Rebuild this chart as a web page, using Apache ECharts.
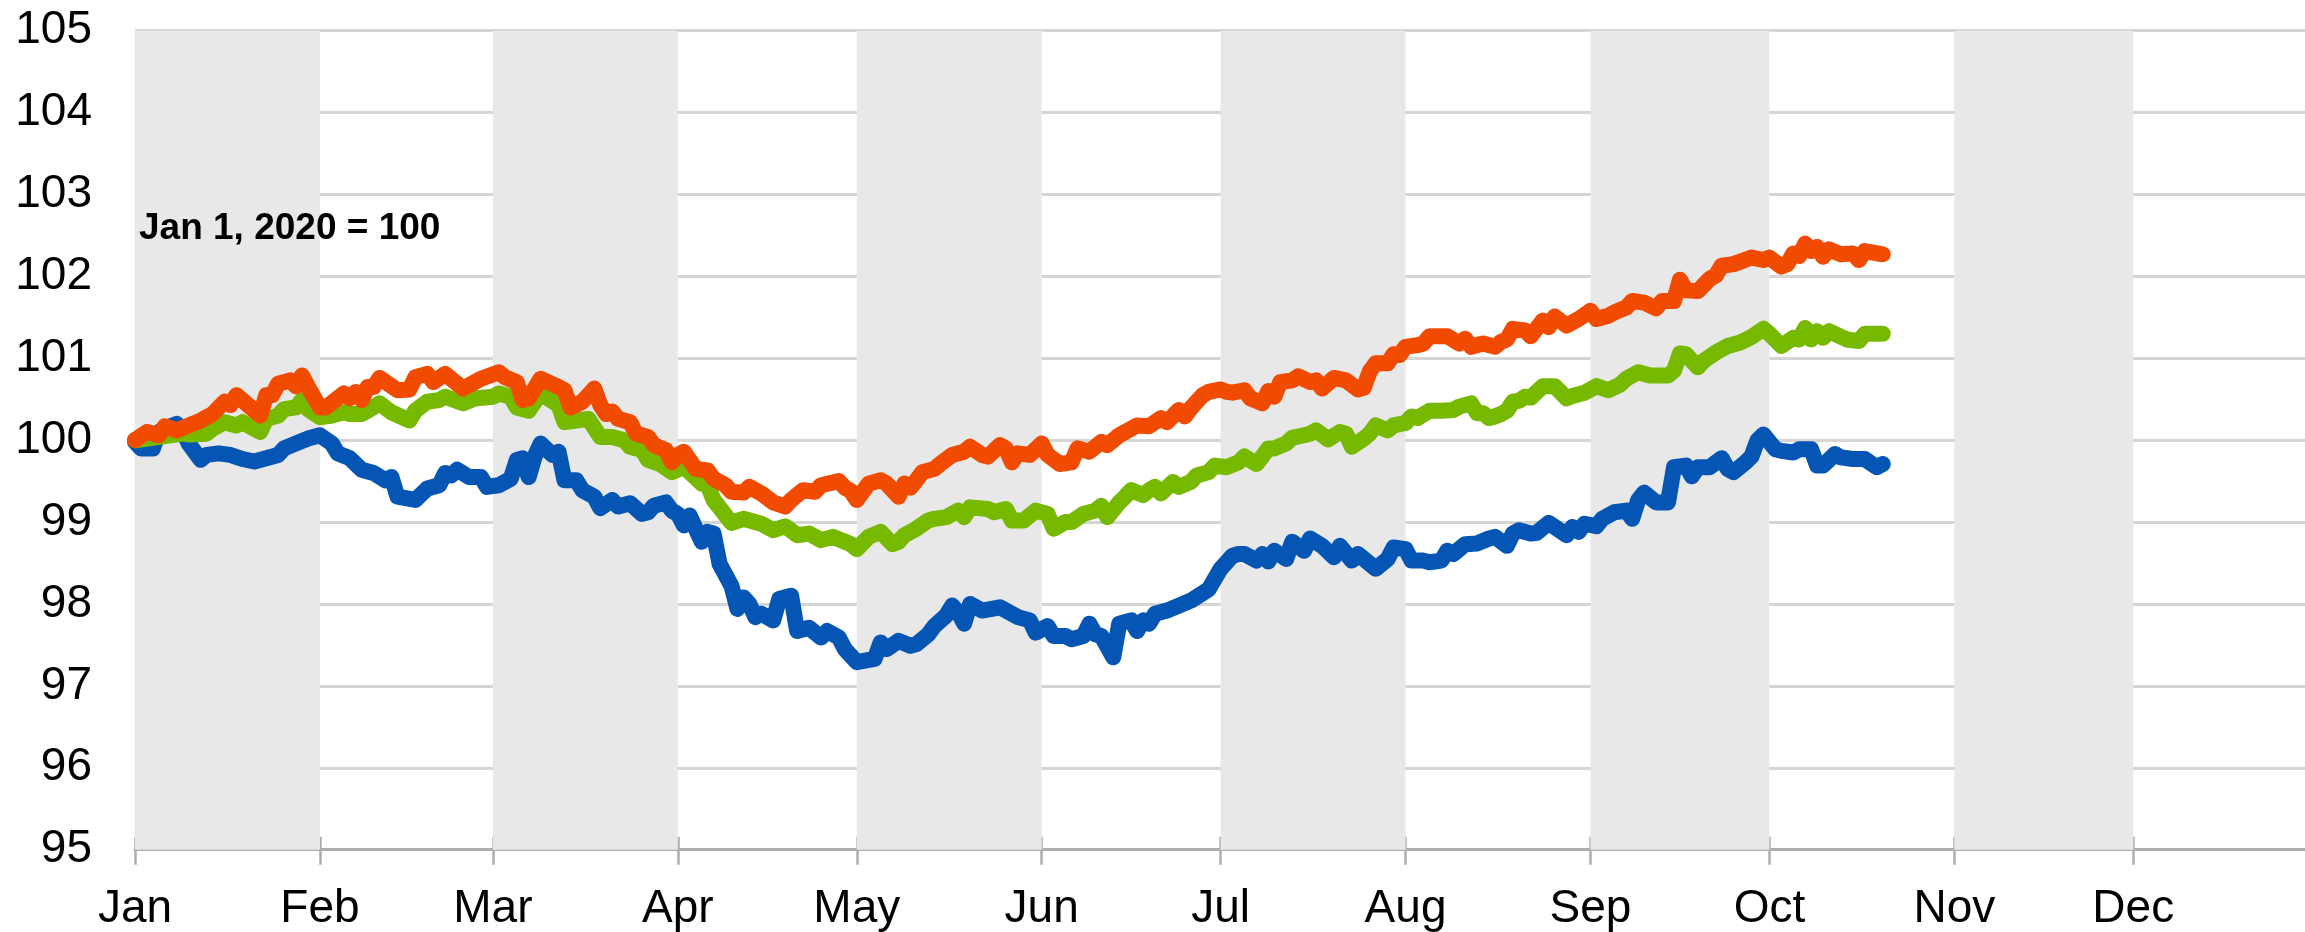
<!DOCTYPE html>
<html>
<head>
<meta charset="utf-8">
<script src="https://cdn.jsdelivr.net/npm/echarts@6/dist/echarts.min.js"></script>
<style>
html,body{margin:0;padding:0;background:#fff;}
#chart{width:2305px;height:932px;}
</style>
</head>
<body>
<div id="chart"></div>
<script>
// ---- Data (day offset from Jan 1, 2020 ; index value, Jan 1 2020 = 100) ----
const monthLabels = ['Jan','Feb','Mar','Apr','May','Jun','Jul','Aug','Sep','Oct','Nov','Dec'];
const yTicks = [95,96,97,98,99,100,101,102,103,104,105];
const shadedMonths = [0,2,4,6,8,10]; // Jan, Mar, May, Jul, Sep, Nov

const orangeDays = [0,2,4,5,7,11,13,15,16,17,21,22,23,24,26,27,28,29,31,32,35,36,37,38,39,40,41,44,46,47,49,50,52,55,57,58,61,62,64,65,66,68,71,72,73,75,77,78,79,80,81,83,84,86,87,89,90,91,92,94,96,97,99,100,102,103,105,107,109,110,112,114,115,118,119,120,121,123,125,126,128,129,130,131,132,134,135,137,139,140,142,143,145,146,147,148,150,152,153,155,157,158,160,162,163,165,167,168,170,172,173,175,176,177,179,180,182,183,184,186,187,189,190,191,192,194,195,197,198,199,201,203,205,206,207,208,210,211,212,213,215,216,217,219,220,222,223,224,226,228,229,230,231,233,234,236,237,238,240,242,244,245,247,248,250,251,253,255,256,258,259,260,262,264,265,266,268,271,273,274,276,277,278,279,280,281,282,283,284,286,288,289,290,293];
const orangeValues = [100.00,100.10,100.06,100.17,100.12,100.24,100.32,100.47,100.43,100.55,100.30,100.55,100.55,100.69,100.73,100.66,100.79,100.65,100.40,100.40,100.57,100.51,100.59,100.49,100.65,100.65,100.76,100.61,100.62,100.77,100.81,100.71,100.81,100.63,100.71,100.75,100.83,100.77,100.71,100.49,100.51,100.75,100.65,100.61,100.40,100.47,100.63,100.43,100.32,100.35,100.26,100.22,100.08,100.04,99.94,99.88,99.73,99.82,99.86,99.65,99.63,99.53,99.45,99.37,99.36,99.43,99.35,99.24,99.19,99.27,99.39,99.37,99.45,99.50,99.42,99.38,99.27,99.47,99.51,99.47,99.31,99.47,99.42,99.51,99.61,99.65,99.71,99.82,99.86,99.92,99.82,99.80,99.94,99.90,99.73,99.84,99.82,99.96,99.82,99.71,99.73,99.90,99.86,99.98,99.94,100.06,100.14,100.18,100.17,100.27,100.22,100.37,100.29,100.39,100.55,100.59,100.62,100.59,100.58,100.61,100.51,100.45,100.60,100.53,100.71,100.73,100.78,100.71,100.73,100.63,100.76,100.73,100.62,100.64,100.84,100.94,100.94,101.05,101.04,101.14,101.16,101.18,101.27,101.27,101.27,101.18,101.24,101.14,101.18,101.14,101.20,101.23,101.36,101.34,101.27,101.46,101.38,101.51,101.40,101.48,101.58,101.48,101.52,101.56,101.62,101.70,101.68,101.61,101.70,101.70,101.96,101.83,101.82,101.97,102.01,102.13,102.15,102.23,102.20,102.23,102.12,102.15,102.28,102.25,102.40,102.31,102.36,102.24,102.33,102.27,102.28,102.20,102.31,102.27];

const greenDays = [0,8,9,12,13,15,17,18,21,22,24,25,27,28,29,31,33,35,36,38,39,41,43,46,47,49,51,52,55,57,60,61,63,64,66,68,71,72,74,76,78,80,82,83,85,86,88,90,92,93,95,96,97,100,102,105,107,109,111,113,115,117,119,120,121,123,125,127,128,129,131,133,134,136,138,139,140,143,144,146,147,149,151,153,154,156,157,159,161,162,163,165,166,167,169,170,171,172,174,175,177,178,180,181,183,185,186,188,189,190,191,193,194,196,197,198,200,202,203,204,206,207,208,210,211,213,214,215,217,219,221,222,224,225,226,227,228,229,230,231,232,233,234,236,238,240,241,243,245,247,249,250,252,254,257,258,259,260,262,263,265,267,269,271,273,274,276,278,279,280,281,282,283,284,287,289,290,293];
const greenValues = [100.00,100.08,100.07,100.08,100.14,100.22,100.18,100.22,100.10,100.26,100.30,100.38,100.40,100.49,100.38,100.28,100.30,100.34,100.32,100.32,100.36,100.45,100.34,100.24,100.36,100.47,100.49,100.53,100.45,100.51,100.53,100.57,100.53,100.40,100.36,100.57,100.43,100.22,100.24,100.26,100.04,100.04,100.00,99.92,99.88,99.76,99.71,99.61,99.67,99.61,99.47,99.45,99.27,98.99,99.04,98.98,98.90,98.95,98.84,98.86,98.78,98.82,98.76,98.73,98.67,98.82,98.88,98.73,98.76,98.84,98.92,99.02,99.04,99.06,99.14,99.06,99.18,99.16,99.12,99.16,99.02,99.02,99.14,99.10,98.92,99.00,99.00,99.10,99.14,99.20,99.06,99.24,99.31,99.39,99.33,99.39,99.43,99.35,99.49,99.43,99.49,99.57,99.61,99.69,99.67,99.73,99.80,99.71,99.80,99.90,99.90,99.96,100.03,100.06,100.08,100.12,100.01,100.10,100.08,99.92,100.02,100.08,100.18,100.12,100.18,100.21,100.29,100.27,100.36,100.36,100.37,100.41,100.45,100.33,100.33,100.27,100.29,100.32,100.36,100.47,100.48,100.53,100.52,100.66,100.66,100.51,100.54,100.58,100.66,100.61,100.68,100.75,100.83,100.79,100.79,100.85,101.06,101.05,100.89,100.97,101.07,101.15,101.19,101.26,101.36,101.30,101.15,101.25,101.23,101.37,101.23,101.33,101.25,101.33,101.23,101.21,101.30,101.30];

const blueDays = [0,1,3,4,5,7,8,9,11,12,14,16,18,20,22,24,25,27,29,31,33,34,36,38,40,42,43,44,47,49,51,52,53,54,56,58,59,61,63,64,65,66,67,68,70,71,72,74,75,77,78,80,81,83,85,86,87,89,90,91,92,93,95,96,97,98,100,101,102,103,104,105,107,108,110,111,113,115,116,118,119,121,124,125,126,128,130,131,133,134,136,137,138,139,140,142,145,148,150,151,153,154,156,157,159,160,161,162,164,165,167,168,169,170,171,173,175,177,180,182,184,185,186,188,189,190,191,193,194,196,197,199,201,202,204,205,208,210,211,213,214,216,217,219,220,221,223,225,227,228,230,231,232,234,235,237,240,241,242,243,245,246,248,250,251,252,253,255,257,258,260,261,262,264,266,267,268,270,271,272,273,275,276,278,279,281,282,283,285,286,288,290,292,293];
const blueValues = [99.98,99.90,99.90,100.10,100.14,100.20,100.12,99.96,99.76,99.82,99.84,99.82,99.77,99.74,99.78,99.82,99.90,99.96,100.02,100.06,99.96,99.84,99.78,99.64,99.60,99.51,99.55,99.31,99.27,99.41,99.45,99.60,99.57,99.64,99.55,99.55,99.43,99.45,99.53,99.76,99.78,99.55,99.80,99.96,99.82,99.86,99.51,99.51,99.39,99.31,99.17,99.27,99.19,99.23,99.10,99.12,99.20,99.24,99.14,99.10,98.96,99.08,98.76,98.88,98.86,98.49,98.22,97.94,98.08,98.00,97.84,97.88,97.80,98.06,98.10,97.67,97.71,97.59,97.67,97.59,97.45,97.29,97.33,97.53,97.45,97.55,97.49,97.51,97.63,97.73,97.86,97.98,97.90,97.76,98.00,97.92,97.96,97.84,97.80,97.65,97.73,97.61,97.61,97.57,97.61,97.76,97.63,97.61,97.35,97.76,97.80,97.67,97.80,97.76,97.88,97.92,97.98,98.04,98.18,98.43,98.59,98.61,98.61,98.53,98.61,98.52,98.65,98.55,98.76,98.65,98.80,98.71,98.57,98.71,98.53,98.61,98.43,98.55,98.69,98.67,98.53,98.53,98.51,98.53,98.65,98.61,98.73,98.74,98.80,98.82,98.71,98.86,98.90,98.86,98.87,98.99,98.84,98.94,98.88,98.98,98.95,99.04,99.12,99.14,99.04,99.27,99.36,99.24,99.24,99.67,99.69,99.56,99.67,99.67,99.78,99.65,99.61,99.73,99.80,100.00,100.07,99.89,99.87,99.85,99.89,99.89,99.69,99.69,99.83,99.79,99.77,99.77,99.67,99.71];

// ---- Build category axis of calendar days (Jan 1 2020 .. Jan 1 2021) ----
const DAY = 86400000;
const start = Date.UTC(2020,0,1);
const nDays = 367;
const dayDates = [];
for (let i = 0; i < nDays; i++) dayDates.push(new Date(start + i*DAY));
const categories = dayDates.map(d => d.toISOString().slice(0,10));
const isMonthStart = (idx) => idx < nDays - 1 && dayDates[idx].getUTCDate() === 1;
const monthStartIdx = [];
for (let i = 0; i < nDays; i++) if (dayDates[i].getUTCDate() === 1) monthStartIdx.push(i);

const pairs = (days, vals) => days.map((d, i) => [d, vals[i]]);
const bands = shadedMonths.map(m => [{xAxis: monthStartIdx[m]}, {xAxis: monthStartIdx[m+1]}]);

const FONT = '"Liberation Sans", Arial, sans-serif';
const axisGray = '#AEAEAE';

const chart = echarts.init(document.getElementById('chart'), null, {renderer: 'canvas'});
const lineSeries = (name, color, days, vals, z) => ({
  name, type: 'line', data: pairs(days, vals), showSymbol: false, symbol: 'none',
  smooth: false, z,
  lineStyle: {color: color, width: 16, cap: 'round', join: 'round'},
  emphasis: {disabled: true},
  itemStyle: {color: color}
});

chart.setOption({
  animation: false,
  backgroundColor: '#fff',
  grid: {left: 135, top: 30.7, width: 366 * 5.965, height: 819, containLabel: false, outerBoundsMode: 'none'},
  xAxis: [{
    type: 'category', data: categories, boundaryGap: false,
    axisLine: {show: true, lineStyle: {color: axisGray, width: 3}},
    axisTick: {show: true, length: 15, interval: (i) => isMonthStart(i), lineStyle: {color: axisGray, width: 2.5}},
    axisLabel: {
      interval: (i) => isMonthStart(i), margin: 37,
      formatter: (v) => monthLabels[new Date(v + 'T00:00:00Z').getUTCMonth()],
      fontSize: 46, color: '#000', fontFamily: FONT
    },
    splitLine: {show: false}
  }, {
    type: 'category', data: categories, boundaryGap: false, position: 'bottom',
    axisLine: {show: false},
    axisTick: {show: true, inside: true, length: 13, interval: (i) => isMonthStart(i), lineStyle: {color: axisGray, width: 2.5}},
    axisLabel: {show: false}, splitLine: {show: false}
  }],
  yAxis: {
    type: 'value', min: yTicks[0], max: yTicks[yTicks.length-1], interval: 1,
    axisLine: {show: false}, axisTick: {show: false},
    axisLabel: {fontSize: 46, color: '#000', fontFamily: FONT, margin: 43},
    splitLine: {show: true, lineStyle: {color: '#D5D5D5', width: 3}}
  },
  graphic: [{
    type: 'text', left: 139, top: 210, z: 100,
    style: {text: 'Jan 1, 2020 = 100', font: 'bold 37px ' + FONT, fill: '#000'}
  }],
  series: [
    {
      name: 'bands', type: 'line', data: [], silent: true, z: 0,
      markArea: {silent: true, itemStyle: {color: '#E8E8E8'}, data: bands}
    },
    lineSeries('Blue', '#0556B4', blueDays, blueValues, 3),
    lineSeries('Green', '#76B900', greenDays, greenValues, 4),
    lineSeries('Orange', '#F04B00', orangeDays, orangeValues, 5)
  ]
});
</script>
</body>
</html>
